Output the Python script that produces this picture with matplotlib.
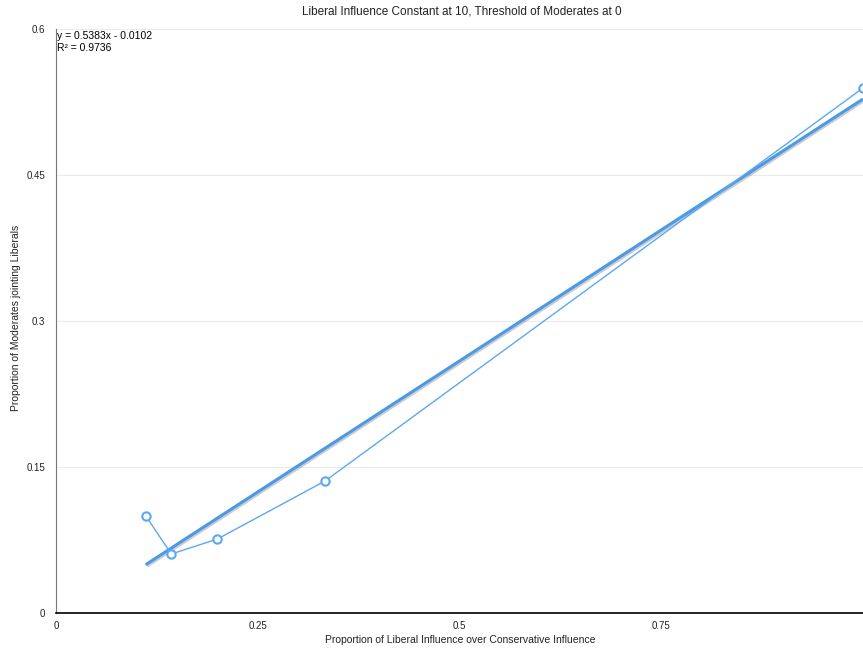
import numpy as np
import matplotlib.pyplot as plt
import matplotlib.patheffects as pe

plt.rcParams['font.family'] = ['Liberation Sans', 'DejaVu Sans']

# ratio of liberal to conservative influence, share of moderates that joined
x = [1/9, 1/7, 0.2, 1/3, 1.0]
y = [0.100, 0.0606, 0.076, 0.1356, 0.5394]
slope = 0.5383
intercept = -0.0102
r2 = 0.9736

blue = '#5ba8f2'

fig = plt.figure(figsize=(8.63, 6.48), dpi=100)
ax = fig.add_axes([56/863, 35/648, 807/863, 584/648])

xt = np.array([min(x), max(x)])
ax.plot(xt, slope * xt + intercept, color='#4a9ae8', linewidth=2.2,
        solid_capstyle='butt',
        path_effects=[pe.SimpleLineShadow(offset=(1, -1), alpha=0.2), pe.Normal()],
        zorder=3)
ax.plot(x, y, color=blue, linewidth=1, marker='o', markersize=6,
        markerfacecolor='white', markeredgecolor=blue, markeredgewidth=1.5,
        zorder=4, clip_on=False)

ax.set_xlim(0, 1)
ax.set_ylim(0, 0.6)
ax.set_xticks([0, 0.25, 0.5, 0.75])
ax.set_xticklabels(['0', '0.25', '0.5', '0.75'])
ax.set_yticks([0, 0.15, 0.3, 0.45, 0.6])
ax.set_yticklabels(['0', '0.15', '0.3', '0.45', '0.6'])
ax.tick_params(length=0, labelsize=7, colors='#222222', pad=6)
ax.tick_params(axis='y', pad=8)
ax.grid(axis='y', color='#ebebeb', linewidth=0.8)
ax.set_axisbelow(True)
for s in ['top', 'right']:
    ax.spines[s].set_visible(False)
ax.spines['left'].set_color('#777777')
ax.spines['bottom'].set_color('black')
ax.spines['bottom'].set_linewidth(1.2)

fig.text(460/863, 1 - 640/648, 'Proportion of Liberal Influence over Conservative Influence',
         fontsize=7.5, ha='center', va='center', color='#222222')
fig.text(16/863, 1 - 318/648, 'Proportion of Moderates jointing Liberals',
         fontsize=7.5, ha='center', va='center', rotation=90, color='#222222')
fig.text(462/863, 1 - 12/648, 'Liberal Influence Constant at 10, Threshold of Moderates at 0',
         fontsize=8.5, ha='center', va='center', color='#222222')

ax.text(0.001, 0.598, 'y = 0.5383x - 0.0102\nR² = 0.9736', fontsize=7.5, va='top', ha='left',
        linespacing=1.3)

fig.savefig('out.png', dpi=100)
